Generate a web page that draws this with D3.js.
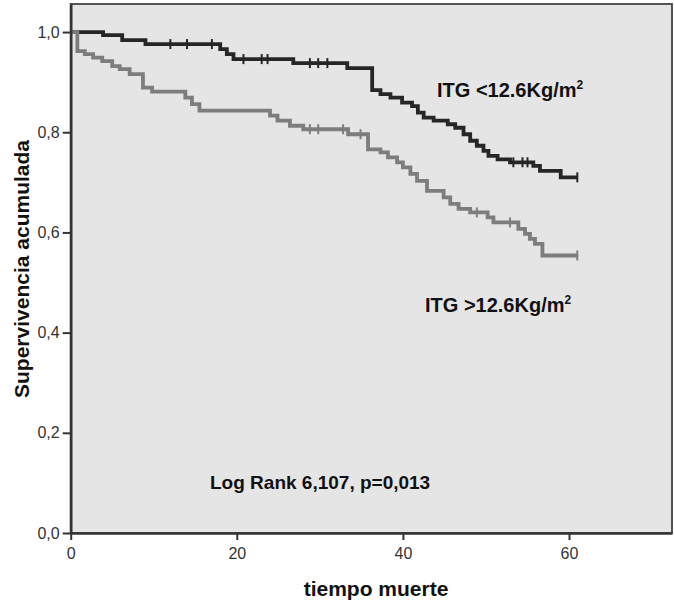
<!DOCTYPE html>
<html>
<head>
<meta charset="utf-8">
<script src="https://cdn.jsdelivr.net/npm/d3@7"></script>
<style>
  body { margin: 0; background: #fff; }
  text { font-family: "Liberation Sans", Arial, sans-serif; }
</style>
</head>
<body>
<svg id="chart"></svg>
<script>
// Kaplan-Meier steps: [time, survival after event]
const lowTimes = [3.9, 6.2, 9.0, 18.0, 18.8, 19.6, 26.8, 33.3, 36.3, 37.3, 38.5, 39.9, 41.1, 41.8, 42.5, 43.7,
  45.4, 46.3, 47.3, 48.1, 48.9, 49.7, 50.3, 51.4, 52.9, 55.7, 56.5, 59.0];
const lowSurv = [0.994, 0.984, 0.976, 0.966, 0.956, 0.946, 0.938, 0.928, 0.884, 0.876, 0.869, 0.859, 0.852, 0.839,
  0.829, 0.823, 0.816, 0.809, 0.796, 0.783, 0.773, 0.763, 0.753, 0.746, 0.740, 0.733, 0.723, 0.710];
const lowCensored = [12.0, 14.0, 17.0, 20.8, 23.0, 23.7, 28.8, 29.8, 30.9, 53.3, 54.4, 55.0, 61.0];

const highTimes = [0.8, 1.7, 2.7, 3.8, 5.0, 5.9, 7.1, 8.7, 9.8, 13.8, 14.6, 15.5, 24.0, 24.9, 26.4, 28.0, 33.4,
  35.8, 37.3, 38.2, 39.3, 40.0, 40.9, 41.7, 42.9, 44.9, 45.7, 46.7, 48.1, 50.2, 50.9, 53.9, 54.7, 55.3, 55.9, 56.8];
const highSurv = [0.962, 0.956, 0.949, 0.942, 0.932, 0.926, 0.916, 0.889, 0.881, 0.869, 0.856, 0.843, 0.833, 0.823,
  0.813, 0.806, 0.796, 0.766, 0.760, 0.750, 0.740, 0.730, 0.717, 0.703, 0.683, 0.670, 0.657, 0.647, 0.640, 0.630,
  0.620, 0.607, 0.597, 0.587, 0.577, 0.554];
const highCensored = [28.8, 29.8, 32.8, 34.9, 48.9, 52.9, 61.0];

const lastTime = 61.0;
const xTicks = [0, 20, 40, 60];
const yTicks = [0, 0.2, 0.4, 0.6, 0.8, 1.0];

const groups = [
  {name: 'ITG <12.6Kg/m', times: lowTimes, surv: lowSurv, censored: lowCensored, color: '#262626'},
  {name: 'ITG >12.6Kg/m', times: highTimes, surv: highSurv, censored: highCensored, color: '#7d7d7d'}
];

const width = 674, height = 608;
const margin = {top: 4, right: 2, bottom: 75, left: 70.7};

const svg = d3.select('#chart')
    .attr('width', width)
    .attr('height', height);

const x = d3.scaleLinear()
    .domain([0, 72.4])
    .range([margin.left, width - margin.right]);

const y = d3.scaleLinear()
    .domain([0, 1.056])
    .range([height - margin.bottom, margin.top]);

// plot background and frame
svg.append('rect')
    .attr('x', margin.left)
    .attr('y', margin.top)
    .attr('width', width - margin.right - margin.left)
    .attr('height', height - margin.bottom - margin.top)
    .attr('fill', '#e5e5e5')
    .attr('stroke', '#444')
    .attr('stroke-width', 1.8);

// survival curves
groups.forEach(g => {
  const pts = [[0, 1]].concat(g.times.map((t, i) => [t, g.surv[i]]));
  pts.push([lastTime, g.surv[g.surv.length - 1]]);

  const line = d3.line()
      .x(d => x(d[0]))
      .y(d => y(d[1]))
      .curve(d3.curveStepAfter);

  svg.append('path')
      .datum(pts)
      .attr('fill', 'none')
      .attr('stroke', g.color)
      .attr('stroke-width', 3.8)
      .attr('d', line);

  // survival value at a censoring time
  const survAt = t => {
    let s = 1;
    g.times.forEach((tt, i) => { if (tt <= t) s = g.surv[i]; });
    return s;
  };

  svg.selectAll(null)
      .data(g.censored)
      .join('line')
      .attr('x1', d => x(d)).attr('x2', d => x(d))
      .attr('y1', d => y(survAt(d)) - 5)
      .attr('y2', d => y(survAt(d)) + 5)
      .attr('stroke', g.color)
      .attr('stroke-width', 2);
});

// axes
const fmt = d => d3.format('.1f')(d).replace('.', ',');

const yAxis = svg.append('g')
    .attr('transform', `translate(${margin.left},0)`)
    .call(d3.axisLeft(y).tickValues(yTicks).tickFormat(fmt).tickSize(8).tickPadding(3).tickSizeOuter(0));

const xAxis = svg.append('g')
    .attr('transform', `translate(0,${height - margin.bottom})`)
    .call(d3.axisBottom(x).tickValues(xTicks).tickSize(7).tickPadding(8).tickSizeOuter(0));

[xAxis, yAxis].forEach(ax => {
  ax.select('.domain').attr('stroke', '#333').attr('stroke-width', 2.6);
  ax.selectAll('.tick line').attr('stroke', '#333').attr('stroke-width', 2);
  ax.selectAll('.tick text')
      .attr('fill', '#333')
      .style('font-size', '16px')
      .style('font-family', '"Liberation Sans", Arial, sans-serif');
});

// axis titles
svg.append('text')
    .attr('x', 376)
    .attr('y', 596)
    .attr('text-anchor', 'middle')
    .style('font-size', '21px')
    .style('font-weight', 'bold')
    .attr('fill', '#111')
    .text('tiempo muerte');

svg.append('text')
    .attr('transform', 'translate(29,269) rotate(-90)')
    .attr('text-anchor', 'middle')
    .style('font-size', '21px')
    .style('font-weight', 'bold')
    .attr('fill', '#111')
    .text('Supervivencia acumulada');

// curve labels with superscript
const labelPos = [[437, 97], [425, 312]];
groups.forEach((g, i) => {
  const t = svg.append('text')
      .attr('x', labelPos[i][0])
      .attr('y', labelPos[i][1])
      .style('font-size', '20px')
      .style('font-weight', 'bold')
      .attr('fill', '#111');
  t.append('tspan').text(g.name);
  t.append('tspan')
      .attr('dy', -8)
      .style('font-size', '12px')
      .text('2');
});

svg.append('text')
    .attr('x', 210)
    .attr('y', 489)
    .style('font-size', '19px')
    .style('font-weight', 'bold')
    .attr('fill', '#111')
    .text('Log Rank 6,107, p=0,013');
</script>
</body>
</html>
